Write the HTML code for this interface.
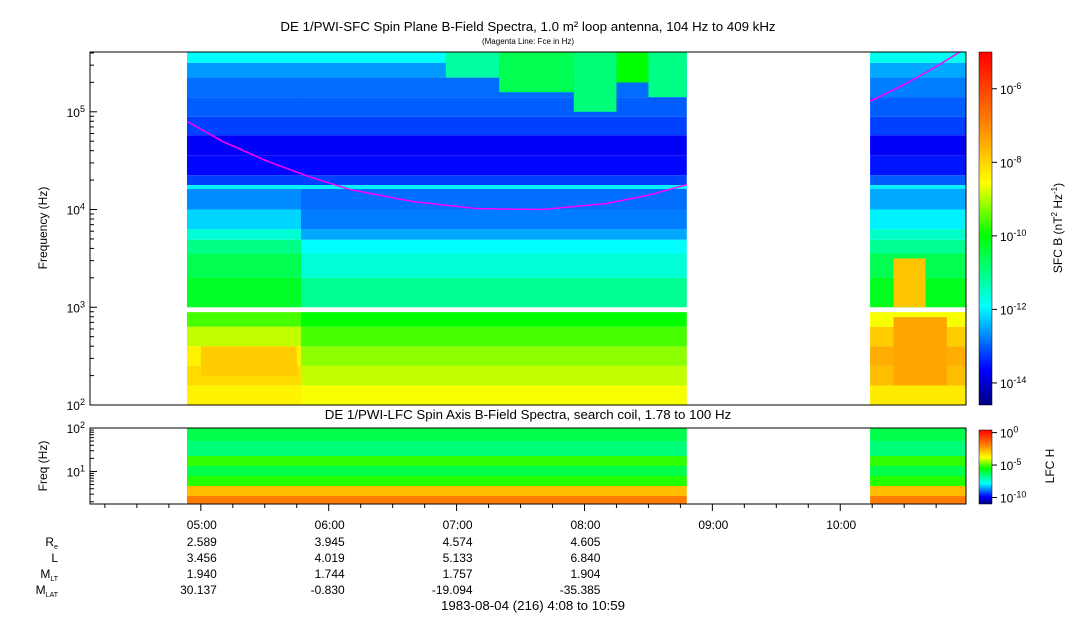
<!DOCTYPE html>
<html><head><meta charset="utf-8"><style>
body{margin:0;background:#fff;}
svg{display:block;font-family:"Liberation Sans",sans-serif;}
</style></head><body>
<svg id="chart" width="1083" height="620" viewBox="0 0 1083 620" xmlns="http://www.w3.org/2000/svg">
<defs>
<linearGradient id="cb1" x1="0" y1="1" x2="0" y2="0">
<stop offset="0" stop-color="#00007f"/><stop offset="0.1" stop-color="#0000ff"/><stop offset="0.28" stop-color="#00ffff"/><stop offset="0.48" stop-color="#00ff00"/><stop offset="0.63" stop-color="#ffff00"/><stop offset="0.8" stop-color="#ff8000"/><stop offset="1" stop-color="#ff0000"/>
</linearGradient>
</defs>
<g id="spec1"></g>
<g id="spec2"></g>
<polyline id="fce1" fill="none" stroke="#ff00ff" stroke-width="1.5"/>
<polyline id="fce2" fill="none" stroke="#ff00ff" stroke-width="1.5"/>
<rect x="90" y="52" width="876" height="353" fill="none" stroke="#000"/>
<rect x="90" y="428" width="876" height="76" fill="none" stroke="#000"/>
<g id="axes"></g>
<rect x="979" y="52" width="13" height="353" fill="url(#cb1)" stroke="#000" stroke-width="0.5"/>
<rect x="979" y="430" width="13" height="74" fill="url(#cb1)" stroke="#000" stroke-width="0.5"/>
<text x="528" y="31" font-size="13.3" text-anchor="middle">DE 1/PWI-SFC  Spin Plane B-Field Spectra, 1.0 m² loop antenna, 104 Hz to 409 kHz</text>
<text x="528" y="44" font-size="8" text-anchor="middle">(Magenta Line: Fce in Hz)</text>
<text x="528" y="419" font-size="13.3" text-anchor="middle">DE 1/PWI-LFC  Spin Axis B-Field Spectra, search coil, 1.78 to 100 Hz</text>
<text transform="translate(47,228) rotate(-90)" font-size="12" text-anchor="middle">Frequency (Hz)</text>
<text transform="translate(47,466) rotate(-90)" font-size="12" text-anchor="middle">Freq (Hz)</text>
<text transform="translate(1062,228) rotate(-90)" font-size="12" text-anchor="middle">SFC B (nT<tspan dy="-5" font-size="8">2</tspan><tspan dy="5"> Hz</tspan><tspan dy="-5" font-size="8">-1</tspan><tspan dy="5">)</tspan></text>
<text transform="translate(1054,466) rotate(-90)" font-size="12" text-anchor="middle">LFC H</text>
<g font-size="12" text-anchor="end">
<text x="58" y="546">R<tspan font-size="7" dy="3">e</tspan></text>
<text x="58" y="562">L</text>
<text x="58" y="578">M<tspan font-size="7" dy="3">LT</tspan></text>
<text x="58" y="594">M<tspan font-size="7" dy="3">LAT</tspan></text>
</g>
<g id="eph" font-size="12" text-anchor="end"></g>
<text x="533" y="610" font-size="13.3" text-anchor="middle">1983-08-04 (216) 4:08 to 10:59</text>
</svg>
<script>
// time in minutes of day
const tStart = 248, tEnd = 659;
const segStart = [293.5, 347, 614];
const segEnd = [347, 528, 659];
// SFC bands (log10 Hz edges), upper part above 1 kHz
const hiEdges = [5.61, 5.5, 5.35, 5.15, 4.95, 4.76, 4.55, 4.35, 4.25, 4.21, 4.0, 3.8, 3.69, 3.55, 3.3, 3.0];
const hiA = [-11.9, -12.6, -12.9, -13.0, -13.2, -13.7, -13.6, -13.2, -12.0, -12.7, -12.2, -11.6, -11.0, -10.6, -10.3];
const hiB = [-11.9, -12.6, -12.9, -13.0, -13.2, -13.7, -13.6, -13.2, -12.0, -12.9, -12.8, -12.5, -11.9, -11.6, -11.1];
const hiC = [-11.8, -12.5, -12.8, -13.0, -13.2, -13.7, -13.5, -13.0, -12.0, -12.5, -12.0, -11.5, -11.1, -10.6, -10.2];
// below 900 Hz
const loEdges = [2.95, 2.8, 2.6, 2.4, 2.2, 2.0];
const loA = [-9.6, -8.9, -8.4, -8.1, -8.4];
const loB = [-10.0, -9.6, -9.2, -8.9, -8.6];
const loC = [-8.6, -7.9, -7.5, -7.7, -8.3];
// localized emission patches: times (min), log f range, log power
const pT0 = [415, 440, 475, 495, 510, 625, 625, 300];
const pT1 = [440, 475, 495, 510, 528, 640, 650, 345];
const pF0 = [5.35, 5.2, 5.0, 5.3, 5.15, 3.0, 2.2, 2.3];
const pF1 = [5.61, 5.61, 5.61, 5.61, 5.61, 3.5, 2.9, 2.6];
const pV = [-11.2, -10.6, -10.9, -10.0, -11.0, -7.8, -7.4, -7.9];
// LFC bands
const lfEdges = [2.0, 1.7, 1.355, 1.125, 0.895, 0.665, 0.434, 0.25];
const lfVals = [-6.2, -6.6, -5.2, -6.2, -5.3, -2.8, -1.8];
// Fce line
const fceT1 = [293.5, 310, 330, 350, 370, 400, 430, 460, 490, 510, 528];
const fceF1 = [80000, 50000, 32000, 22000, 16000, 12000, 10200, 10000, 11500, 14000, 18000];
const fceT2 = [614, 630, 645, 656];
const fceF2 = [128000, 190000, 290000, 409000];
// axis ticks
const sfcTicks = [2, 3, 4, 5];
const lfcTicks = [1, 2];
const cb1Ticks = [-6, -8, -10, -12, -14];
const cb2Ticks = [0, -5, -10];
const timeLabels = ["05:00", "06:00", "07:00", "08:00", "09:00", "10:00"];
const timeVals = [300, 360, 420, 480, 540, 600];
const ephRe = ["2.589", "3.945", "4.574", "4.605"];
const ephL = ["3.456", "4.019", "5.133", "6.840"];
const ephMLT = ["1.940", "1.744", "1.757", "1.904"];
const ephMLAT = ["30.137", "-0.830", "-19.094", "-35.385"];

const NS = "http://www.w3.org/2000/svg";
const X = t => 90 + (t - tStart) / (tEnd - tStart) * 876;
const LF1 = Math.log10(409000);
const Y1 = lf => 405 - (lf - 2) / (LF1 - 2) * 353;
const LF2lo = Math.log10(1.78);
const Y2 = lf => 504 - (lf - LF2lo) / (2 - LF2lo) * 76;
const stops = [[0,[0,0,127]],[0.1,[0,0,255]],[0.28,[0,255,255]],[0.48,[0,255,0]],[0.63,[255,255,0]],[0.8,[255,128,0]],[1,[255,0,0]]];
function cmap(n){ n=Math.max(0,Math.min(1,n));
  for(let i=1;i<stops.length;i++){ if(n<=stops[i][0]){ const a=stops[i-1],b=stops[i],f=(n-a[0])/(b[0]-a[0]);
    return "rgb("+a[1].map((c,k)=>Math.round(c+(b[1][k]-c)*f)).join(",")+")"; } } return "rgb(255,0,0)"; }
const c1 = v => cmap((v + 14.6) / 9.6);
const c2 = v => cmap((v + 11) / 11.4);
function rect(g, x0, x1, y0, y1, fill, name){
  const r = document.createElementNS(NS, "rect");
  r.setAttribute("x", x0); r.setAttribute("y", Math.min(y0,y1));
  r.setAttribute("width", x1 - x0); r.setAttribute("height", Math.abs(y1 - y0));
  r.setAttribute("fill", fill);
  
  
  g.appendChild(r);
}
const g1 = document.getElementById("spec1");
const hiVals = [hiA, hiB, hiC], loVals = [loA, loB, loC];
for (let s = 0; s < 3; s++) {
  const x0 = X(segStart[s]), x1 = X(segEnd[s]);
  for (let i = 0; i < hiVals[s].length; i++) rect(g1, x0, x1, Y1(hiEdges[i]), Y1(hiEdges[i+1]), c1(hiVals[s][i]), "sfc-cell");
  for (let i = 0; i < loVals[s].length; i++) rect(g1, x0, x1, Y1(loEdges[i]), Y1(loEdges[i+1]), c1(loVals[s][i]), "sfc-cell");
}
for (let i = 0; i < pV.length; i++) rect(g1, X(pT0[i]), X(pT1[i]), Y1(pF1[i]), Y1(pF0[i]), c1(pV[i]), "sfc-emission-patch");
const g2 = document.getElementById("spec2");
const lfSegs = [[segStart[0], segEnd[1]], [segStart[2], segEnd[2]]];
lfSegs.forEach(sg => { for (let i = 0; i < lfVals.length; i++) rect(g2, X(sg[0]), X(sg[1]), Y2(lfEdges[i]), Y2(lfEdges[i+1]), c2(lfVals[i]), "lfc-cell"); });
document.getElementById("fce1").setAttribute("points", fceT1.map((t,i)=>X(t)+","+Y1(Math.log10(fceF1[i]))).join(" "));
document.getElementById("fce2").setAttribute("points", fceT2.map((t,i)=>X(t)+","+Y1(Math.log10(fceF2[i]))).join(" "));

const ax = document.getElementById("axes");
function line(x1,y1,x2,y2,name){ const l=document.createElementNS(NS,"line");
  l.setAttribute("x1",x1);l.setAttribute("y1",y1);l.setAttribute("x2",x2);l.setAttribute("y2",y2);l.setAttribute("stroke","#000");
  
  
  ax.appendChild(l); }
function powLabel(x,y,exp,name){ const t=document.createElementNS(NS,"text");
  t.setAttribute("x",x);t.setAttribute("y",y);t.setAttribute("font-size","12");t.setAttribute("text-anchor",name.indexOf("colorbar")>=0?"start":"end");
  t.innerHTML='10<tspan dy="-5" font-size="9">'+exp+'</tspan>';
  
  
  ax.appendChild(t); }
sfcTicks.forEach(e => { const y=Y1(e); line(90,y,97,y,"sfc-major-tick"); powLabel(85,y+5,e,"sfc-tick-label");
  for(let m=2;m<10;m++){ const lf=e+Math.log10(m); if(lf<LF1){ const ym=Y1(lf); line(90,ym,94,ym,"sfc-minor-tick"); } } });
lfcTicks.forEach(e => { const y=Y2(e); line(90,y,97,y,"lfc-major-tick"); powLabel(85,y+5,e,"lfc-tick-label"); });
for (let e=0;e<2;e++) for(let m=2;m<10;m++){ const lf=e+Math.log10(m); if(lf>LF2lo){ line(90,Y2(lf),94,Y2(lf),"lfc-minor-tick"); } }
cb1Ticks.forEach(v => { const y=405-(v+14.6)/9.6*353; line(992,y,997,y,"sfc-colorbar-tick"); powLabel(1000,y+5,v,"sfc-colorbar-label"); });
cb2Ticks.forEach(v => { const y=504-(v+11)/11.4*74; line(992,y,997,y,"lfc-colorbar-tick"); powLabel(1000,y+5,v,"lfc-colorbar-label"); });
for (let t = 255; t <= tEnd; t += 15) { const x = X(t); const major = (t % 60) === 0;
  line(x, 504, x, major ? 511 : 508, major ? "time-major-tick" : "time-minor-tick"); }
const eph = document.getElementById("eph");
function txt(x,y,s,name){ const t=document.createElementNS(NS,"text"); t.setAttribute("x",x); t.setAttribute("y",y); t.textContent=s;
  
  
  eph.appendChild(t); }
timeLabels.forEach((s,i)=>txt(X(timeVals[i])+16, 529, s, "time-tick-label"));
[ephRe, ephL, ephMLT, ephMLAT].forEach((arr, r) => arr.forEach((s,i)=>txt(X(timeVals[i])+16, 546+r*16, s, "ephemeris-value")));
</script>
</body></html>
